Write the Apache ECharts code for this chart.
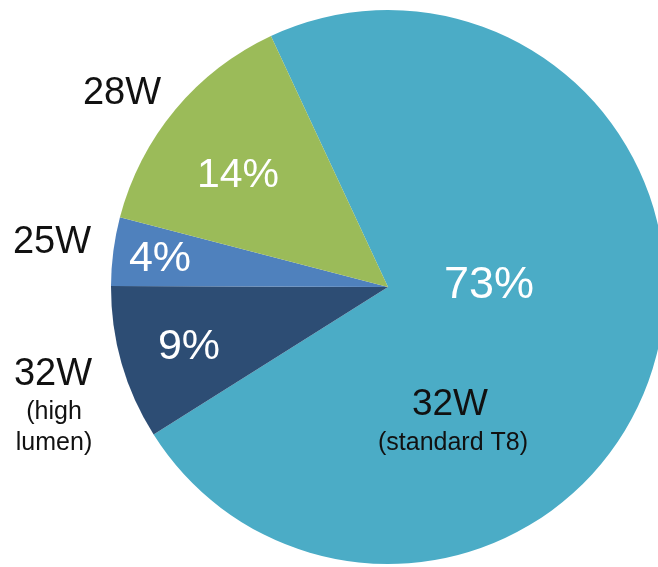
<!DOCTYPE html>
<html><head><meta charset="utf-8">
<script src="https://cdn.jsdelivr.net/npm/echarts@6/dist/echarts.min.js"></script>
<style>html,body{margin:0;padding:0;background:#fff}#c{width:658px;height:567px}</style>
</head><body><div id="c"></div>
<script>
const categories = ['32W (standard T8)', '32W (high lumen)', '25W', '28W'];
const values = [73, 9, 4, 14];
const colors = ['#4BACC6', '#2D4D74', '#4F81BD', '#9BBB59'];
const pctLabels = ['73%', '9%', '4%', '14%'];
const nameMain = ['32W', '32W', '25W', '28W'];
const nameSub = ['(standard T8)', '(high\nlumen)', '', ''];

const chart = echarts.init(document.getElementById('c'), null, {renderer: 'canvas'});
const font = 'Liberation Sans, Arial, sans-serif';
function txt(x, y, t, size, color, lh) {
  return {type: 'text', x: x, y: y, z: 100, style: {text: t, fill: color, font: size + 'px ' + font,
    align: 'center', verticalAlign: 'middle', lineHeight: lh || size * 1.2}};
}
chart.setOption({
  animation: false,
  series: [{
    type: 'pie',
    center: [388, 287],
    radius: [0, 277],
    startAngle: 115,
    clockwise: true,
    label: {show: false},
    labelLine: {show: false},
    itemStyle: {borderWidth: 0},
    emphasis: {disabled: true},
    data: categories.map((c, i) => ({name: c, value: values[i], itemStyle: {color: colors[i]}}))
  }],
  graphic: [
    txt(489, 286, pctLabels[0], 45, '#fff'),
    txt(450, 405, nameMain[0], 37, '#111'),
    txt(453, 443, nameSub[0], 25, '#111'),
    txt(189, 347, pctLabels[1], 43, '#fff'),
    txt(160, 259, pctLabels[2], 43, '#fff'),
    txt(238, 176, pctLabels[3], 41, '#fff'),
    txt(122, 94, nameMain[3], 38, '#111'),
    txt(52, 243, nameMain[2], 38, '#111'),
    txt(53, 375, nameMain[1], 38, '#111'),
    txt(54, 428, nameSub[1], 25, '#111', 31)
  ]
});
</script></body></html>
